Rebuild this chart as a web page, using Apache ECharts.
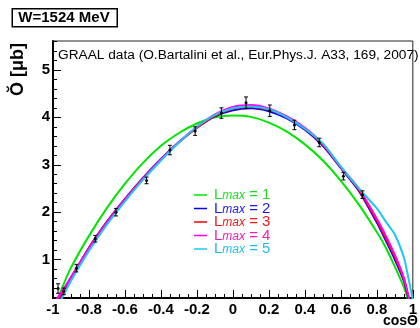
<!DOCTYPE html>
<html><head><meta charset="utf-8">
<script src="https://cdn.jsdelivr.net/npm/echarts@6/dist/echarts.min.js"></script>
<style>html,body{margin:0;padding:0;background:#fff}#c{width:420px;height:328px}</style>
</head><body><div id="c"></div>
<script>
// ---- data ----
const cosGrid = [-1, -0.975, -0.95, -0.9, -0.8, -0.7, -0.6, -0.5, -0.4, -0.3, -0.2, -0.1, 0, 0.1, 0.2, 0.3, 0.4, 0.5, 0.6, 0.7, 0.8, 0.85, 0.9, 0.95, 0.975, 1];
const fitL1 = [0.0, 0.15, 0.40, 0.83, 1.50, 2.09, 2.60, 3.04, 3.40, 3.67, 3.87, 4.00, 4.04, 4.01, 3.89, 3.70, 3.43, 3.09, 2.66, 2.16, 1.58, 1.25, 0.85, 0.42, 0.15, -0.1];
const fitL2 = [-0.07, 0.10, 0.26, 0.60, 1.25, 1.80, 2.28, 2.72, 3.12, 3.48, 3.78, 4.02, 4.15, 4.19, 4.13, 3.98, 3.74, 3.40, 2.93, 2.45, 1.78, 1.40, 1.00, 0.55, 0.19, -0.2];
const fitL3 = [0.0, 0.14, 0.29, 0.62, 1.25, 1.79, 2.27, 2.71, 3.11, 3.47, 3.78, 4.03, 4.18, 4.22, 4.16, 4.00, 3.76, 3.42, 2.94, 2.47, 1.82, 1.45, 1.05, 0.58, 0.22, -0.15];
const fitL4 = [0.05, 0.19, 0.33, 0.63, 1.24, 1.78, 2.26, 2.70, 3.11, 3.48, 3.80, 4.06, 4.22, 4.26, 4.19, 4.02, 3.78, 3.44, 2.95, 2.50, 1.86, 1.50, 1.10, 0.62, 0.25, -0.1];
const fitL5 = [-0.15, 0.0, 0.19, 0.55, 1.18, 1.74, 2.23, 2.68, 3.09, 3.47, 3.80, 4.05, 4.19, 4.23, 4.17, 4.00, 3.76, 3.45, 2.96, 2.50, 2.08, 1.80, 1.53, 1.05, 0.62, 0.15];
const dataCos = [-0.972, -0.94, -0.87, -0.765, -0.65, -0.48, -0.35, -0.21, -0.064, 0.073, 0.205, 0.342, 0.48, 0.614, 0.72];
const dataSig = [0.39, 0.33, 0.82, 1.44, 2.00, 2.67, 3.31, 3.71, 4.09, 4.31, 4.14, 3.84, 3.47, 2.76, 2.37];
const dataErr = [0.10, 0.07, 0.08, 0.07, 0.08, 0.07, 0.10, 0.09, 0.11, 0.12, 0.12, 0.10, 0.09, 0.08, 0.08];
const seriesNames = ['Lmax = 1', 'Lmax = 2', 'Lmax = 3', 'Lmax = 4', 'Lmax = 5'];
const lineColors = ['#00e600', '#0000ff', '#ff0000', '#ff00ff', '#1ec8f0'];
const textColors = ['#22dd22', '#1a1aee', '#ee1a1a', '#ee22b0', '#22bbee'];
const xTickLabels = [-1, -0.8, -0.6, -0.4, -0.2, 0, 0.2, 0.4, 0.6, 0.8, 1];
const yTickLabels = [1, 2, 3, 4, 5];
const yMinorTicks = [0.2, 0.4, 0.6, 0.8, 1.2, 1.4, 1.6, 1.8, 2.2, 2.4, 2.6, 2.8, 3.2, 3.4, 3.6, 3.8, 4.2, 4.4, 4.6, 4.8, 5.2, 5.4, 5.6];
const yMin = 0.19, yMax = 5.61;

const fits = [fitL1, fitL2, fitL3, fitL4, fitL5];
const FONT = 'Liberation Sans, Arial, Helvetica, sans-serif';

const chart = echarts.init(document.getElementById('c'), null, {renderer: 'canvas'});

const lineSeries = fits.map((arr, i) => ({
  name: seriesNames[i],
  type: 'line',
  data: cosGrid.map((c, k) => [c, arr[k]]),
  smooth: 0.25,
  showSymbol: false,
  symbol: 'none',
  clip: true,
  z: 2 + i,
  lineStyle: {color: lineColors[i], width: 2},
  itemStyle: {color: lineColors[i]},
  emphasis: {disabled: true},
  animation: false
}));

const errSeries = {
  type: 'custom',
  name: 'GRAAL',
  z: 10,
  clip: false,
  data: dataCos.map((c, k) => [c, dataSig[k], dataErr[k]]),
  renderItem: function (params, api) {
    const x = api.value(0), y = api.value(1), e = api.value(2);
    const p = api.coord([x, y]);
    const lo = api.coord([x, y - e]);
    const hi = api.coord([x, y + e]);
    const s = {stroke: '#000', lineWidth: 1};
    return {type: 'group', children: [
      {type: 'line', shape: {x1: p[0], y1: lo[1], x2: p[0], y2: hi[1]}, style: s},
      {type: 'line', shape: {x1: p[0] - 2, y1: lo[1], x2: p[0] + 2, y2: lo[1]}, style: s},
      {type: 'line', shape: {x1: p[0] - 2, y1: hi[1], x2: p[0] + 2, y2: hi[1]}, style: s},
      {type: 'circle', shape: {cx: p[0], cy: p[1], r: 1.5}, style: {fill: '#000'}}
    ]};
  },
  animation: false
};

const option = {
  animation: false,
  grid: {left: 53, right: 3, top: 41, bottom: 30, show: true, borderColor: '#222', borderWidth: 1, backgroundColor: 'transparent'},
  xAxis: {
    type: 'value', min: -1, max: 1, interval: 0.2,
    axisLine: {show: true, onZero: false, lineStyle: {color: '#000', width: 2}},
    axisTick: {show: true, inside: true, length: 8, lineStyle: {color: '#000', width: 1}},
    minorTick: {show: true, splitNumber: 4, length: 4, lineStyle: {color: '#000', width: 1}},
    splitLine: {show: false},
    axisLabel: {color: '#000', fontFamily: FONT, fontWeight: 'bold', fontSize: 15, margin: 4,
      customValues: xTickLabels, formatter: v => String(+v.toFixed(2))}
  },
  yAxis: [{
    type: 'value', min: yMin, max: yMax,
    axisLine: {show: true, onZero: false, lineStyle: {color: '#000', width: 2}},
    axisTick: {show: true, inside: true, length: 8, customValues: yTickLabels, lineStyle: {color: '#000', width: 1}},
    splitLine: {show: false},
    axisLabel: {color: '#000', fontFamily: FONT, fontWeight: 'bold', fontSize: 15, margin: 3, customValues: yTickLabels}
  }, {
    type: 'value', min: yMin, max: yMax, position: 'left',
    axisLine: {show: false, onZero: false},
    axisTick: {show: true, inside: true, length: 4, customValues: yMinorTicks, lineStyle: {color: '#000', width: 1}},
    splitLine: {show: false},
    axisLabel: {show: false}
  }],
  legend: {
    orient: 'vertical', left: 189, top: 180, itemGap: -4,
    icon: 'rect', itemWidth: 13, itemHeight: 1.5,
    itemStyle: {borderWidth: 0},
    lineStyle: {width: 0},
    selectedMode: false,
    data: seriesNames.map((n, i) => ({name: n, textStyle: {color: textColors[i]}})),
    formatter: function (name) {
      const n = name.split('=')[1].trim();
      return '{a|L}{b|max}{c| = ' + n + '}';
    },
    textStyle: {
      fontFamily: FONT, fontSize: 15, padding: [0, 0, 0, 2],
      rich: {
        a: {fontSize: 15, fontFamily: FONT, lineHeight: 14},
        b: {fontSize: 12, fontFamily: FONT, fontStyle: 'italic', verticalAlign: 'bottom', lineHeight: 10, padding: [5, 0, 0, 0]},
        c: {fontSize: 15, fontFamily: FONT, lineHeight: 14}
      }
    }
  },
  graphic: [
    {type: 'rect', left: 11.5, top: 8, shape: {width: 105, height: 18}, style: {fill: '#fff', stroke: '#000', lineWidth: 1.5}, z: 100},
    {type: 'text', x: 64, y: 17.5, style: {text: 'W=1524 MeV', font: 'bold 15px ' + FONT, fill: '#000', align: 'center', verticalAlign: 'middle'}, z: 101},
    {type: 'text', x: 58, y: 55, style: {text: 'GRAAL data (O.Bartalini et al., Eur.Phys.J. A33, 169, 2007)', font: '13.7px ' + FONT, fill: '#000', align: 'left', verticalAlign: 'middle'}, z: 101},
    {type: 'text', x: 18, y: 43, rotation: Math.PI / 2, style: {text: 'Ŏ [μb]', font: 'bold 18px ' + FONT, fill: '#000', align: 'right', verticalAlign: 'middle'}, z: 101},
    {type: 'text', x: 418, y: 321, style: {text: 'cosΘ', font: 'bold 14px ' + FONT, fill: '#000', align: 'right', verticalAlign: 'middle'}, z: 101}
  ],
  series: lineSeries.concat([errSeries])
};
chart.setOption(option);
</script></body></html>
